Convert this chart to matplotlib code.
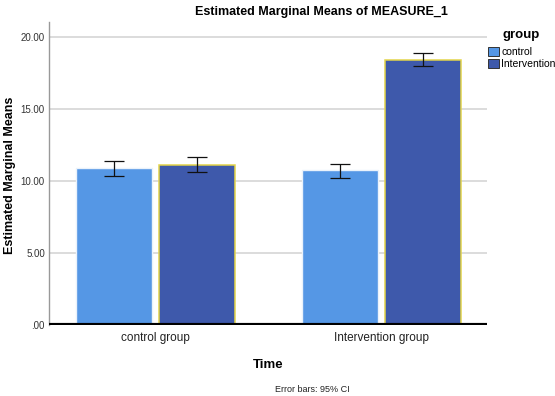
import numpy as np
import matplotlib
matplotlib.use('Agg')
from matplotlib import pyplot
from matplotlib.patches import Patch

# data
time_labels = ['control group', 'Intervention group']
group_names = ['control', 'Intervention']
means_control = [10.90, 10.74]
means_intervention = [11.13, 18.40]
ci_low_control = [10.37, 10.24]
ci_high_control = [11.39, 11.15]
ci_low_intervention = [10.63, 17.95]
ci_high_intervention = [11.67, 18.87]
y_ticks = [0, 5, 10, 15, 20]
y_tick_labels = ['.00', '5.00', '10.00', '15.00', '20.00']

col_control = '#5597E5'
col_interv = '#3E59AB'

pyplot.rcParams['font.family'] = 'Liberation Sans'

fig = pyplot.figure(figsize=(5.55, 3.96), dpi=100)
W, H = 555.0, 396.0
ax = fig.add_axes([49 / W, 1 - 325 / H, (487 - 49) / W, (325 - 22) / H])

x = np.arange(len(time_labels))
width = 0.335
off = 0.184

def yerr(means, lo, hi):
    m = np.array(means)
    return [m - np.array(lo), np.array(hi) - m]

ax.bar(x - off, means_control, width, color=col_control, edgecolor='#EAF2FB',
       linewidth=1.0, zorder=2)
ax.bar(x + off, means_intervention, width, color=col_interv, edgecolor='#E3D44A',
       linewidth=1.1, zorder=2)
ax.errorbar(x - off, means_control, yerr=yerr(means_control, ci_low_control, ci_high_control),
            fmt='none', ecolor='#111111', elinewidth=0.9, capsize=7.5, capthick=0.9, zorder=3)
ax.errorbar(x + off, means_intervention,
            yerr=yerr(means_intervention, ci_low_intervention, ci_high_intervention),
            fmt='none', ecolor='#111111', elinewidth=0.9, capsize=7.5, capthick=0.9, zorder=3)

ax.set_xlim(-0.47, 1.465)
ax.set_ylim(0, 21.04)
ax.set_yticks(y_ticks)
ax.set_yticklabels(y_tick_labels, fontsize=7, color='#333333')
ax.set_xticks(x)
ax.set_xticklabels(time_labels, fontsize=8.5, color='#222222')
ax.tick_params(axis='both', length=0, pad=3)
ax.tick_params(axis='x', pad=5)

for t in y_ticks[1:]:
    ax.axhline(t, color='#D9D9D9', linewidth=1.3, zorder=1)
ax.axhline(0, color='black', linewidth=3, zorder=4)

for s in ['top', 'right', 'bottom']:
    ax.spines[s].set_visible(False)
ax.spines['left'].set_color('#999999')
ax.spines['left'].set_linewidth(1.0)

fig.text(321 / W, 1 - 12 / H, 'Estimated Marginal Means of MEASURE_1', ha='center',
         va='center', fontsize=9, fontweight='bold')
fig.text(10 / W, 1 - 175 / H, 'Estimated Marginal Means', rotation=90, ha='center',
         va='center', fontsize=9, fontweight='bold')
fig.text(268 / W, 1 - 365 / H, 'Time', ha='center', va='center', fontsize=9.5,
         fontweight='bold')
fig.text(312 / W, 1 - 390 / H, 'Error bars: 95% CI', ha='center', va='center',
         fontsize=6.5, color='#222222')

fig.text(521 / W, 1 - 35 / H, 'group', ha='center', va='center', fontsize=9.5,
         fontweight='bold')
handles = [Patch(facecolor=col_control, edgecolor='#333333', linewidth=0.7),
           Patch(facecolor=col_interv, edgecolor='#333333', linewidth=0.7)]
fig.legend(handles, group_names, loc='upper left', bbox_to_anchor=(486 / W, 1 - 45 / H),
           frameon=False, fontsize=7.5, handlelength=1.0, handleheight=1.0,
           handletextpad=0.25, labelspacing=0.15, borderpad=0.2, borderaxespad=0)

pyplot.savefig('out.png', dpi=100)
